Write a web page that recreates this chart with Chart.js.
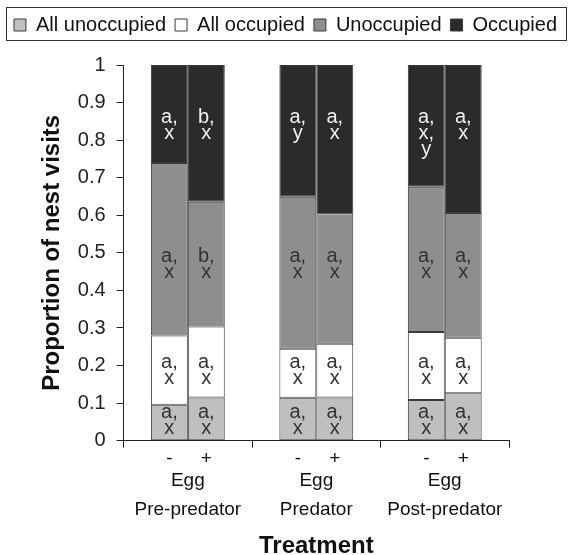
<!DOCTYPE html>
<html>
<head>
<meta charset="utf-8">
<script src="https://cdn.jsdelivr.net/npm/chart.js@4.4.1/dist/chart.umd.min.js"></script>
<style>
  html, body { margin: 0; padding: 0; background: #fff; }
  #wrap { width: 571px; height: 555px; }
</style>
</head>
<body>
<div id="wrap"><canvas id="nestChart" width="571" height="555"></canvas></div>
<script>
const groups = [['Egg', 'Pre-predator'], ['Egg', 'Predator'], ['Egg', 'Post-predator']];
const signs = ['-', '+'];
const seriesNames = ['All unoccupied', 'All occupied', 'Unoccupied', 'Occupied'];

// proportions, egg absent (-) and egg present (+), one value per period
const allUnoccMinus = [0.096, 0.114, 0.108];
const allUnoccPlus = [0.115, 0.115, 0.126];
const allOccMinus = [0.184, 0.131, 0.181];
const allOccPlus = [0.189, 0.143, 0.148];
const unoccMinus = [0.459, 0.404, 0.387];
const unoccPlus = [0.332, 0.344, 0.332];
const occMinus = [0.261, 0.351, 0.324];
const occPlus = [0.364, 0.398, 0.394];

// significance letters written in each segment
const allUnoccLettersMinus = [['a,', 'x'], ['a,', 'x'], ['a,', 'x']];
const allUnoccLettersPlus = [['a,', 'x'], ['a,', 'x'], ['a,', 'x']];
const allOccLettersMinus = [['a,', 'x'], ['a,', 'x'], ['a,', 'x']];
const allOccLettersPlus = [['a,', 'x'], ['a,', 'x'], ['a,', 'x']];
const unoccLettersMinus = [['a,', 'x'], ['a,', 'x'], ['a,', 'x']];
const unoccLettersPlus = [['b,', 'x'], ['a,', 'x'], ['a,', 'x']];
const occLettersMinus = [['a,', 'x'], ['a,', 'y'], ['a,', 'x,', 'y']];
const occLettersPlus = [['b,', 'x'], ['a,', 'x'], ['a,', 'x']];

const FONT = '"Liberation Sans", Arial, sans-serif';
const fills = ['#bfbfbf', '#ffffff', '#8e8e8e', '#2b2b2b'];
const labelAnchor = [0.075, 0.209, 0.489, 0.861]; // first text line of each segment type

function makeSet(series, values, letters, stack) {
    return {
        label: seriesNames[series],
        data: values,
        letters,
        series,
        stack,
        backgroundColor: fills[series],
        borderColor: '#3a3a3a',
        borderWidth: 1,
        borderSkipped: false
    };
}

const datasets = [
    makeSet(0, allUnoccMinus, allUnoccLettersMinus, 'minus'),
    makeSet(0, allUnoccPlus, allUnoccLettersPlus, 'plus'),
    makeSet(1, allOccMinus, allOccLettersMinus, 'minus'),
    makeSet(1, allOccPlus, allOccLettersPlus, 'plus'),
    makeSet(2, unoccMinus, unoccLettersMinus, 'minus'),
    makeSet(2, unoccPlus, unoccLettersPlus, 'plus'),
    makeSet(3, occMinus, occLettersMinus, 'minus'),
    makeSet(3, occPlus, occLettersPlus, 'plus')
];

const legendSpace = {
    id: 'legendSpace',
    beforeInit(chart) {
        const origFit = chart.legend.fit;
        chart.legend.fit = function () {
            origFit.bind(chart.legend)();
            this.height = 59;
        };
    }
};

const extras = {
    id: 'extras',
    afterDraw(chart) {
        const {ctx, scales: {y}, chartArea} = chart;
        ctx.save();
        // letters inside the bars
        ctx.font = '20px ' + FONT;
        ctx.textAlign = 'center';
        ctx.textBaseline = 'middle';
        chart.data.datasets.forEach((ds, i) => {
            const meta = chart.getDatasetMeta(i);
            const top = y.getPixelForValue(labelAnchor[ds.series]);
            ctx.fillStyle = ds.series === 3 ? '#f0f0f0' : '#333';
            meta.data.forEach((bar, j) => {
                ds.letters[j].forEach((line, k) => ctx.fillText(line, bar.x, top + k * 16));
            });
        });
        // - / + under each bar
        ctx.font = '19px ' + FONT;
        ctx.fillStyle = '#111';
        [0, 1].forEach(i => {
            chart.getDatasetMeta(i).data.forEach(bar => {
                ctx.fillText(signs[i], bar.x, chartArea.bottom + 18);
            });
        });
        // frame round the legend
        ctx.strokeStyle = '#333';
        ctx.lineWidth = 1;
        ctx.strokeRect(6.5, 7.5, 560, 33);
        ctx.restore();
    }
};

new Chart(document.getElementById('nestChart'), {
    type: 'bar',
    data: { labels: groups, datasets },
    options: {
        responsive: false,
        animation: false,
        layout: { padding: { top: 6, left: 0, right: 0, bottom: 0 } },
        datasets: { bar: { categoryPercentage: 0.575, barPercentage: 1.0 } },
        scales: {
            x: {
                stacked: true,
                border: { color: '#222', width: 1 },
                grid: { drawOnChartArea: false, tickLength: 7, color: '#222', offset: true },
                ticks: {
                    color: '#111',
                    padding: 18,
                    maxRotation: 0,
                    font: { family: FONT, size: 19, lineHeight: 1.55 }
                },
                title: {
                    display: true,
                    text: 'Treatment',
                    color: '#111',
                    font: { family: FONT, size: 24, weight: 'bold', lineHeight: 0.1 },
                    padding: { top: 3, bottom: 7 }
                }
            },
            y: {
                stacked: true,
                min: 0,
                max: 1,
                border: { color: '#222', width: 1 },
                grid: { drawOnChartArea: false, tickLength: 7, color: '#222' },
                ticks: {
                    stepSize: 0.1,
                    color: '#222',
                    padding: 11,
                    font: { family: FONT, size: 20 },
                    callback: v => String(+v.toFixed(1))
                },
                title: {
                    display: true,
                    text: 'Proportion of nest visits',
                    color: '#111',
                    font: { family: FONT, size: 24, weight: 'bold', lineHeight: 1.2 },
                    padding: { top: 38, bottom: 0 }
                }
            },
            yRight: {
                position: 'right',
                display: true,
                grid: { display: false },
                border: { display: false },
                ticks: { display: false },
                afterFit: s => { s.width = 62; }
            }
        },
        plugins: {
            legend: {
                position: 'top',
                labels: {
                    boxWidth: 12,
                    boxHeight: 12,
                    padding: 9,
                    color: '#111',
                    font: { family: FONT, size: 20 },
                    filter: item => item.datasetIndex % 2 === 0
                }
            },
            tooltip: { enabled: false }
        }
    },
    plugins: [legendSpace, extras]
});
</script>
</body>
</html>
